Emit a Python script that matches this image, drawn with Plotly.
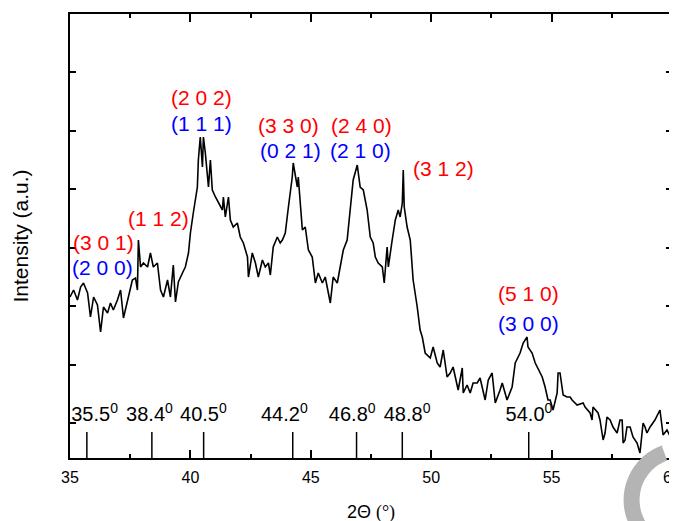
import math
import plotly.graph_objects as go

# ---------------- data ----------------
two_theta = [
    35.00, 35.15, 35.31, 35.44, 35.56, 35.73, 35.85, 35.98, 36.14, 36.27,
    36.39, 36.56, 36.68, 36.80, 36.97, 37.10, 37.22, 37.39, 37.51, 37.59,
    37.72, 37.80, 37.84, 37.93, 38.05, 38.22, 38.34, 38.46, 38.63, 38.76,
    38.88, 39.05, 39.17, 39.29, 39.38, 39.50, 39.67, 39.79, 39.92, 40.00,
    40.12, 40.29, 40.33, 40.41, 40.50, 40.54, 40.62, 40.75, 40.83, 40.91,
    41.04, 41.16, 41.33, 41.37, 41.45, 41.58, 41.66, 41.78, 41.95, 42.07,
    42.20, 42.37, 42.41, 42.57, 42.70, 42.82, 42.99, 43.11, 43.24, 43.32,
    43.44, 43.61, 43.73, 43.82, 43.94, 44.07, 44.23, 44.27, 44.44, 44.48,
    44.56, 44.65, 44.77, 44.90, 45.06, 45.19, 45.31, 45.48, 45.60, 45.73,
    45.81, 45.93, 46.10, 46.22, 46.35, 46.51, 46.64, 46.76, 46.93, 47.05,
    47.18, 47.34, 47.47, 47.59, 47.68, 47.80, 47.97, 48.05, 48.17, 48.22,
    48.38, 48.51, 48.63, 48.71, 48.80, 48.84, 48.88, 49.00, 49.13, 49.25,
    49.42, 49.54, 49.63, 49.75, 49.96, 50.08, 50.25, 50.37, 50.50, 50.66,
    50.79, 50.91, 51.12, 51.29, 51.33, 51.49, 51.62, 51.74, 51.91, 52.03,
    52.24, 52.37, 52.53, 52.66, 52.86, 52.95, 53.15, 53.28, 53.36, 53.49,
    53.69, 53.82, 53.98, 54.02, 54.19, 54.32, 54.40, 54.61, 54.73, 54.85,
    54.94, 55.06, 55.23, 55.27, 55.35, 55.48, 55.64, 55.77, 55.85, 56.06,
    56.31, 56.39, 56.60, 56.68, 56.72, 56.93, 57.01, 57.14, 57.22, 57.30,
    57.43, 57.55, 57.72, 57.84, 57.93, 57.97, 58.05, 58.13, 58.26, 58.38,
    58.55, 58.67, 58.80, 58.88, 58.96, 59.09, 59.29, 59.50, 59.63, 59.79,
    60.00,
]
intensity = [
    161, 168, 158, 171, 175, 165, 141, 161, 153, 126,
    151, 145, 155, 148, 158, 168, 140, 158, 170, 178,
    180, 168, 218, 191, 195, 191, 205, 191, 195, 168,
    161, 178, 161, 193, 156, 176, 185, 191, 205, 225,
    245, 271, 298, 321, 291, 321, 305, 271, 298, 268,
    261, 255, 248, 261, 241, 261, 238, 231, 235, 221,
    215, 201, 181, 205, 195, 181, 198, 191, 195, 183,
    211, 221, 215, 218, 225, 251, 281, 295, 271, 281,
    255, 228, 231, 208, 201, 175, 185, 175, 181, 165,
    155, 181, 175, 191, 208, 218, 251, 278, 293, 271,
    268, 248, 221, 215, 201, 195, 191, 175, 211, 191,
    218, 238, 248, 241, 255, 288, 251, 231, 218, 178,
    151, 128, 121, 105, 100, 111, 95, 91, 108, 81,
    85, 91, 68, 90, 65, 73, 65, 75, 75, 80,
    58, 78, 85, 55, 68, 75, 58, 65, 71, 95,
    105, 115, 121, 111, 105, 95, 91, 81, 71, 58,
    58, 48, 65, 85, 85, 63, 61, 61, 58, 53,
    55, 51, 45, 38, 51, 45, 38, 18, 25, 41,
    38, 31, 25, 38, 38, 15, 18, 31, 31, 21,
    15, 5, 35, 31, 25, 31, 38, 48, 23, 28,
    18,
]

# reference peak positions (stick marks) and their labels
peak_pos = [35.7, 38.4, 40.55, 44.25, 46.9, 48.8, 54.05]
peak_labels = ["35.5", "38.4", "40.5", "44.2", "46.8", "48.8", "54.0"]
peak_label_x = [36.02, 38.30, 40.54, 43.90, 46.72, 49.00, 54.06]
stick_height = 26
peak_label_y = 42

# Miller-index labels
hkl_text = ["(2 0 2)", "(1 1 1)", "(3 3 0)", "(0 2 1)", "(2 4 0)", "(2 1 0)",
            "(3 1 2)", "(5 1 0)", "(3 0 0)", "(1 1 2)", "(3 0 1)", "(2 0 0)"]
hkl_color = ["red", "blue", "red", "blue", "red", "blue",
             "red", "red", "blue", "red", "red", "blue"]
hkl_x = [40.46, 40.46, 44.07, 44.15, 47.10, 47.05, 50.50, 54.02, 54.02, 38.67, 36.39, 36.35]
hkl_y = [361, 335, 333, 308, 333, 308, 290, 165, 135, 240, 216, 191]

FONT = "Arial, 'Liberation Sans', sans-serif"

fig = go.Figure()

# peak position labels (drawn first so the curve sits above them)
fig.add_trace(go.Scatter(
    x=peak_label_x, y=[peak_label_y] * len(peak_label_x),
    mode="text",
    text=[f"{t}<sup>0</sup>" for t in peak_labels],
    textposition="middle center",
    textfont=dict(family=FONT, size=20, color="black"),
    hoverinfo="skip", showlegend=False,
))

# stick marks
sx, sy = [], []
for p in peak_pos:
    sx += [p, p, None]
    sy += [0, stick_height, None]
fig.add_trace(go.Scatter(
    x=sx, y=sy, mode="lines",
    line=dict(color="black", width=1.5),
    hoverinfo="skip", showlegend=False,
))

# XRD pattern
fig.add_trace(go.Scatter(
    x=two_theta, y=intensity, mode="lines",
    line=dict(color="black", width=1.6),
    showlegend=False,
))

for t, c, x, y in zip(hkl_text, hkl_color, hkl_x, hkl_y):
    fig.add_annotation(x=x, y=y, text=t, showarrow=False,
                       font=dict(family=FONT, size=21, color=c),
                       xanchor="center", yanchor="middle")

# page offset of the plot div (default 8px body margin)
OFF = 8
# plot area in page pixels
L, R, T, B = 69.5, 672.5, 14, 458
W, H = R - L, B - T
FIG_W, FIG_H = 677, 521

# watermark crescent at the lower right (layout decoration)
cx, cy, ro, ri = 682, 500, 58, 42
pts = []
angs = [math.radians(a) for a in range(250, 119, -5)]
for a in angs:
    pts.append((cx + ro * math.cos(a), cy + ro * math.sin(a)))
for a in reversed(angs):
    pts.append((cx + ri * math.cos(a), cy + ri * math.sin(a)))
path = "M " + " L ".join(f"{(px - L) / W:.4f},{(B - py) / H:.4f}" for px, py in pts) + " Z"
fig.add_shape(type="path", path=path, xref="paper", yref="paper",
              fillcolor="#b4b4b4", line=dict(width=0), layer="above")

fig.update_layout(
    width=FIG_W, height=FIG_H,
    margin=dict(l=L - OFF, r=FIG_W - (R - OFF), t=T - OFF, b=FIG_H - (B - OFF), autoexpand=False),
    paper_bgcolor="white", plot_bgcolor="white",
    font=dict(family=FONT, color="black"),
    xaxis=dict(
        range=[35, 60], dtick=5, tick0=35, automargin=False,
        ticks="inside", ticklen=8, tickwidth=1.5, tickcolor="black",
        minor=dict(ticks="inside", ticklen=4, dtick=2.5, tickwidth=1.5, tickcolor="black", showgrid=False),
        showline=True, linewidth=1.5, linecolor="black", mirror="ticks",
        showgrid=False, zeroline=False, ticklabelstandoff=4,
        tickfont=dict(family=FONT, size=16, color="black"),
        title=dict(text="2\u0398 <span style=\"font-family:'Liberation Serif', 'Times New Roman', serif\">(°)</span>",
                   font=dict(family=FONT, size=18, color="black"), standoff=20),
    ),
    yaxis=dict(
        range=[0, 444], tick0=35, dtick=58.5, automargin=False,
        ticks="inside", ticklen=6, tickwidth=1.5, tickcolor="black",
        showticklabels=False,
        showline=True, linewidth=1.5, linecolor="black", mirror="ticks",
        showgrid=False, zeroline=False,
        title=dict(text="Intensity (a.u.)", font=dict(family=FONT, size=21, color="black"), standoff=34),
    ),
)

fig.write_html("out.html")
